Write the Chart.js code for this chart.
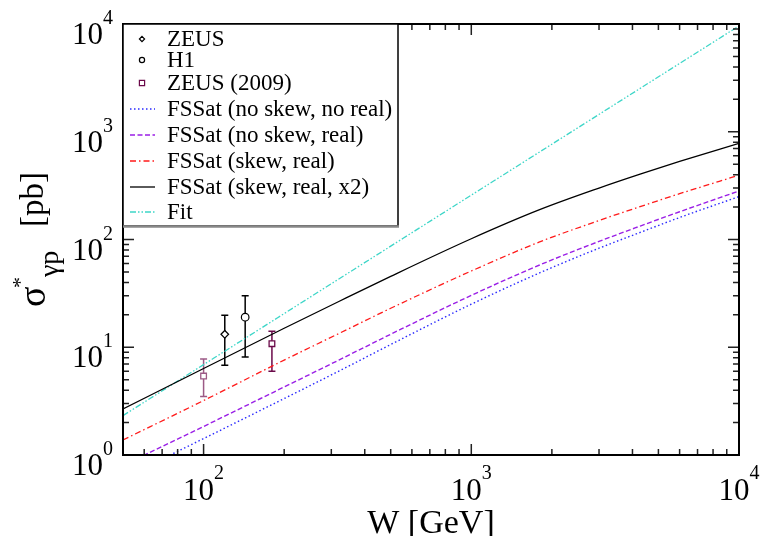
<!DOCTYPE html>
<html>
<head>
<meta charset="utf-8">
<script src="https://cdn.jsdelivr.net/npm/chart.js@4.4.1/dist/chart.umd.min.js"></script>
<style>
  html, body { margin: 0; padding: 0; background: #fff; }
  #wrap { position: relative; width: 767px; height: 536px; }
</style>
</head>
<body>
<div id="wrap"><canvas id="myChart"></canvas></div>
<script>
const wGrid = [50, 100, 200, 320, 500, 1000, 1800, 3000, 4300, 6000, 10000];
const noSkewNoReal = [0.61, 1.42, 3.34, 6.0, 10.6, 25.1, 49, 83, 117, 160, 250];
const noSkewReal = [0.80, 1.84, 4.28, 7.6, 13.2, 30.3, 58, 96, 134, 181, 282];
const skewReal = [1.38, 3.2, 7.6, 13.4, 23, 51, 95, 150, 203, 266, 395];
const skewRealX2 = [2.67, 6.35, 15.0, 26.6, 45.5, 101.6, 189, 300, 406, 530, 781];

const fitW = [50, 100, 1000, 10000];
const fitVals = [2.32, 6.9, 258, 9600];

// measurements with error bars
const zeusW = [120];
const zeusSig = [13.2];
const zeusLo = [6.8];
const zeusHi = [19.8];

const h1W = [143];
const h1Sig = [19.0];
const h1Lo = [8.1];
const h1Hi = [30];

const zeus09W = [100, 180];
const zeus09Sig = [5.4, 10.8];
const zeus09Lo = [3.5, 6.0];
const zeus09Hi = [7.8, 14.1];

const xTickLabels = [100, 1000, 10000];
const yTickLabels = [1, 10, 100, 1000, 10000];

const SERIF = '"Liberation Serif", "DejaVu Serif", serif';

function pts(xs, ys) {
  return xs.map((x, i) => ({ x: x, y: ys[i] }));
}

// error bars, drawn under the markers
const errorBars = {
  id: 'errorBars',
  beforeDatasetsDraw(chart) {
    const c = chart.ctx;
    const xs = chart.scales.x, ys = chart.scales.y;
    chart.data.datasets.forEach(ds => {
      if (!ds.errLo) return;
      ds.data.forEach((p, i) => {
        const col = Array.isArray(ds.borderColor) ? ds.borderColor[i] : ds.borderColor;
        const px = xs.getPixelForValue(p.x);
        const top = ys.getPixelForValue(ds.errHi[i]);
        const bot = ys.getPixelForValue(ds.errLo[i]);
        c.save();
        c.strokeStyle = col;
        c.lineWidth = 1.5;
        c.beginPath();
        c.moveTo(px, top); c.lineTo(px, bot);
        c.moveTo(px - 3.5, top); c.lineTo(px + 3.5, top);
        c.moveTo(px - 3.5, bot); c.lineTo(px + 3.5, bot);
        c.stroke();
        c.restore();
      });
    });
  }
};

function drawPow(c, exp, x, y, align, size, supSize, supRise) {
  c.font = size + 'px ' + SERIF;
  const wb = c.measureText('10').width;
  c.font = supSize + 'px ' + SERIF;
  const we = c.measureText(String(exp)).width;
  let left = x;
  if (align === 'center') left = x - (wb + we) / 2;
  if (align === 'right') left = x - (wb + we);
  c.textAlign = 'left';
  c.textBaseline = 'alphabetic';
  c.font = size + 'px ' + SERIF;
  c.fillText('10', left, y);
  c.font = supSize + 'px ' + SERIF;
  c.fillText(String(exp), left + wb, y - supRise);
}

function marker(c, kind, x, y, r, col) {
  c.save();
  c.strokeStyle = col;
  c.fillStyle = '#fff';
  c.lineWidth = 1.2;
  c.beginPath();
  if (kind === 'diamond') {
    c.moveTo(x, y - r); c.lineTo(x + r, y); c.lineTo(x, y + r); c.lineTo(x - r, y); c.closePath();
  } else if (kind === 'circle') {
    c.arc(x, y, r, 0, Math.PI * 2);
  } else {
    c.rect(x - r, y - r, 2 * r, 2 * r);
  }
  c.fill();
  c.stroke();
  c.restore();
}

// frame, inward ticks, labels, titles and the legend box
const decor = {
  id: 'decor',
  afterDraw(chart) {
    const c = chart.ctx;
    const a = chart.chartArea;
    const xs = chart.scales.x, ys = chart.scales.y;

    c.save();
    c.strokeStyle = '#222';
    c.lineWidth = 1.5;
    // x ticks (bottom and top)
    for (let d = 10; d <= 10000; d *= 10) {
      for (let m = 1; m < 10; m++) {
        const v = d * m;
        if (v < 50 || v > 10000) continue;
        const px = xs.getPixelForValue(v);
        const len = m === 1 ? 11 : 6;
        c.beginPath();
        c.moveTo(px, a.bottom); c.lineTo(px, a.bottom - len);
        c.moveTo(px, a.top); c.lineTo(px, a.top + len);
        c.stroke();
      }
    }
    // y ticks (left and right)
    for (let d = 1; d <= 10000; d *= 10) {
      for (let m = 1; m < 10; m++) {
        const v = d * m;
        if (v > 10000) continue;
        const py = ys.getPixelForValue(v);
        const len = m === 1 ? 11 : 6;
        c.beginPath();
        c.moveTo(a.left, py); c.lineTo(a.left + len, py);
        c.moveTo(a.right, py); c.lineTo(a.right - len, py);
        c.stroke();
      }
    }
    c.lineWidth = 2;
    c.strokeStyle = '#000';
    c.strokeRect(a.left, a.top, a.right - a.left, a.bottom - a.top);
    c.restore();

    // tick labels
    c.save();
    c.fillStyle = '#000';
    xTickLabels.forEach(v => {
      const px = xs.getPixelForValue(v);
      drawPow(c, Math.round(Math.log10(v)), px, a.bottom + 45, 'center', 31, 20, 21);
    });
    yTickLabels.forEach(v => {
      const py = ys.getPixelForValue(v);
      drawPow(c, Math.round(Math.log10(v)), a.left - 10, py + 20, 'right', 31, 20, 20);
    });

    // x title
    c.font = '34px ' + SERIF;
    c.textAlign = 'center';
    c.textBaseline = 'alphabetic';
    c.fillText('W [GeV]', (a.left + a.right) / 2, 533);

    // y title, rotated
    c.translate(45, 307);
    c.rotate(-Math.PI / 2);
    c.textAlign = 'left';
    c.font = '38px ' + SERIF;
    c.fillText('σ', 0, 0);
    c.font = '22px ' + SERIF;
    c.fillText('*', 19, -18);
    c.font = '28px ' + SERIF;
    c.fillText('γp', 30, 13);
    c.font = '33px ' + SERIF;
    c.fillText('[pb]', 80, -2);
    c.restore();

    // legend
    const lx = a.left, ly = a.top, lw = 275, lh = 202;
    c.save();
    c.fillStyle = '#fff';
    c.fillRect(lx, ly, lw, lh);
    c.strokeStyle = '#000';
    c.lineWidth = 1.5;
    c.strokeRect(lx, ly, lw, lh);
    c.strokeStyle = '#888';
    c.lineWidth = 2.5;
    c.beginPath();
    c.moveTo(lx, ly + lh + 0.5); c.lineTo(lx + lw + 1, ly + lh + 0.5);
    c.stroke();

    const rows = [46, 67, 90, 116, 142, 168, 194, 219];
    const sets = chart.data.datasets;
    sets.forEach((ds, i) => {
      const by = rows[i];
      const cy = by - 7;
      if (ds.showLine === false) {
        const col = Array.isArray(ds.borderColor) ? ds.borderColor[ds.borderColor.length - 1] : ds.borderColor;
        marker(c, ds.legendMarker, 142, cy, 2.6, col);
      } else {
        c.save();
        c.strokeStyle = ds.borderColor;
        c.lineWidth = ds.borderWidth;
        c.setLineDash(ds.borderDash || []);
        c.beginPath();
        c.moveTo(130, cy); c.lineTo(155, cy);
        c.stroke();
        c.restore();
      }
      c.fillStyle = '#000';
      c.font = '23px ' + SERIF;
      c.textAlign = 'left';
      c.textBaseline = 'alphabetic';
      c.fillText(ds.label, 167, by);
    });
    c.restore();
  }
};

const ctx = document.getElementById('myChart').getContext('2d');

const myChart = new Chart(ctx, {
  type: 'line',
  data: {
    datasets: [
      {
        label: 'ZEUS',
        data: pts(zeusW, zeusSig),
        errLo: zeusLo, errHi: zeusHi,
        showLine: false,
        legendMarker: 'diamond',
        pointStyle: 'rectRot',
        pointRadius: 3.8,
        pointBorderWidth: 1.2,
        borderColor: '#000',
        pointBackgroundColor: '#fff'
      },
      {
        label: 'H1',
        data: pts(h1W, h1Sig),
        errLo: h1Lo, errHi: h1Hi,
        showLine: false,
        legendMarker: 'circle',
        pointStyle: 'circle',
        pointRadius: 3.8,
        pointBorderWidth: 1.2,
        borderColor: '#000',
        pointBackgroundColor: '#fff'
      },
      {
        label: 'ZEUS (2009)',
        data: pts(zeus09W, zeus09Sig),
        errLo: zeus09Lo, errHi: zeus09Hi,
        showLine: false,
        legendMarker: 'square',
        pointStyle: 'rect',
        pointRadius: 4,
        pointBorderWidth: 1.3,
        borderColor: ['#9c5a86', '#6b0a4a'],
        pointBorderColor: ['#9c5a86', '#6b0a4a'],
        pointBackgroundColor: '#fff'
      },
      {
        label: 'FSSat (no skew, no real)',
        data: pts(wGrid, noSkewNoReal),
        borderColor: '#2a2aff',
        borderWidth: 1.4,
        borderDash: [1.5, 2.5],
        pointRadius: 0,
        cubicInterpolationMode: 'monotone'
      },
      {
        label: 'FSSat (no skew, real)',
        data: pts(wGrid, noSkewReal),
        borderColor: '#9a1fe6',
        borderWidth: 1.4,
        borderDash: [5, 2.5],
        pointRadius: 0,
        cubicInterpolationMode: 'monotone'
      },
      {
        label: 'FSSat (skew, real)',
        data: pts(wGrid, skewReal),
        borderColor: '#ff1a1a',
        borderWidth: 1.3,
        borderDash: [6, 3, 1.5, 3],
        pointRadius: 0,
        cubicInterpolationMode: 'monotone'
      },
      {
        label: 'FSSat (skew, real, x2)',
        data: pts(wGrid, skewRealX2),
        borderColor: '#000',
        borderWidth: 1.3,
        pointRadius: 0,
        cubicInterpolationMode: 'monotone'
      },
      {
        label: 'Fit',
        data: pts(fitW, fitVals),
        borderColor: '#3ed6c8',
        borderWidth: 1.3,
        borderDash: [6, 2, 1.5, 2, 1.5, 2],
        pointRadius: 0,
        cubicInterpolationMode: 'monotone'
      }
    ]
  },
  options: {
    responsive: true,
    maintainAspectRatio: false,
    animation: false,
    layout: { padding: { left: 123, top: 24, right: 28, bottom: 81 } },
    plugins: {
      legend: { display: false },
      tooltip: { enabled: false }
    },
    scales: {
      x: { type: 'logarithmic', min: 50, max: 10000, display: false },
      y: { type: 'logarithmic', min: 1, max: 10000, display: false }
    }
  },
  plugins: [errorBars, decor]
});
</script>
</body>
</html>
